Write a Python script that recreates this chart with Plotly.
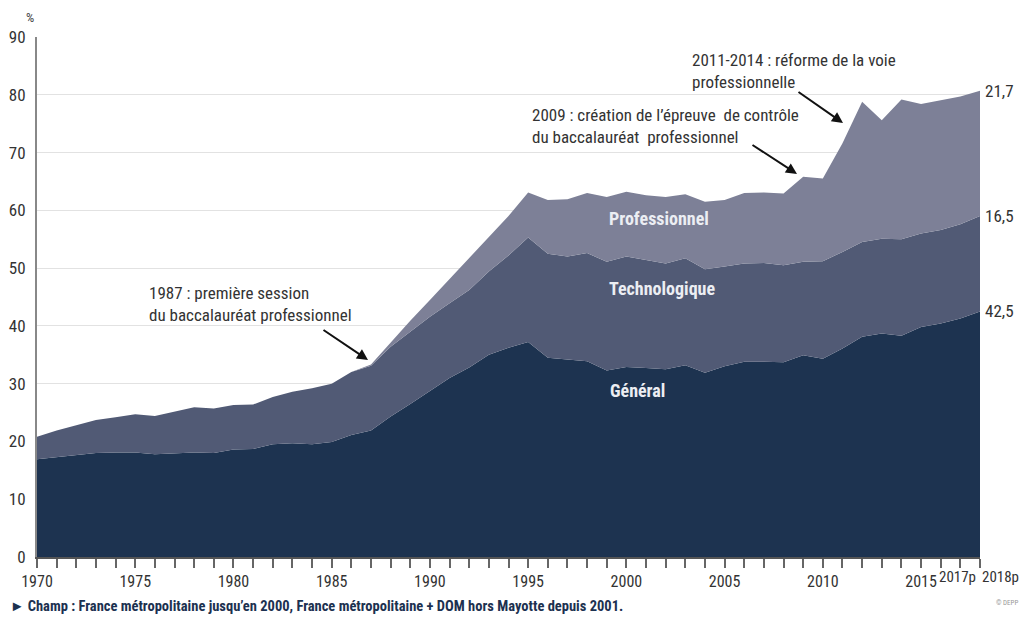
import plotly.graph_objects as go

years = list(range(1970, 2019))

general = [16.9, 17.3, 17.6, 18.0, 18.1, 18.1, 17.8, 17.9, 18.1, 18.0,
           18.6, 18.7, 19.5, 19.7, 19.5, 19.9, 21.1, 21.9, 24.3, 26.5,
           28.8, 31.0, 32.8, 35.0, 36.2, 37.2, 34.5, 34.2, 33.9, 32.3,
           32.9, 32.7, 32.5, 33.2, 31.9, 33.0, 33.8, 33.8, 33.7, 34.9,
           34.3, 36.1, 38.1, 38.7, 38.3, 39.8, 40.4, 41.3, 42.5]

technologique = [3.9, 4.6, 5.2, 5.7, 6.1, 6.6, 6.6, 7.2, 7.8, 7.7,
                 7.7, 7.7, 8.2, 8.9, 9.7, 10.1, 10.9, 11.2, 12.1, 12.5,
                 12.8, 12.9, 13.4, 14.4, 16.0, 18.1, 18.0, 17.8, 18.7, 18.8,
                 19.1, 18.7, 18.3, 18.5, 17.9, 17.3, 17.0, 17.1, 16.8, 16.2,
                 16.9, 16.7, 16.4, 16.4, 16.7, 16.2, 16.2, 16.3, 16.5]

professionnel = [0, 0, 0, 0, 0, 0, 0, 0, 0, 0,
                 0, 0, 0, 0, 0, 0, 0, 0.2, 0.8, 1.9,
                 2.9, 4.2, 5.6, 6.0, 6.8, 7.8, 9.3, 9.9, 10.4, 11.2,
                 11.2, 11.2, 11.5, 11.1, 11.7, 11.5, 12.2, 12.2, 12.4, 14.7,
                 14.3, 18.8, 24.3, 20.5, 24.2, 22.4, 22.5, 22.1, 21.7]

series_names = ["Général", "Technologique", "Professionnel"]
end_labels = ["42,5", "16,5", "21,7"]

tick_years = years
tick_text_map = {1970: "1970", 1975: "1975", 1980: "1980", 1985: "1985",
                 1990: "1990", 1995: "1995", 2000: "2000", 2005: "2005",
                 2010: "2010", 2015: "2015"}
extra_tick_labels = [(2017, "2017p", "right"), (2018, "2018p", "left")]
y_ticks = [0, 10, 20, 30, 40, 50, 60, 70, 80, 90]

# page has an 8px body margin: size the figure so the plot lands where the original's is
OFF = 8
W, H = 1029 - OFF, 620 - OFF
L, R, T, B = 37 - OFF, 49, 37 - OFF, 63
PW, PH = W - L - R, H - T - B

def px(x):
    return (x - OFF - L) / PW

def py(y):
    return (T + PH - (y - OFF)) / PH

FONT = "Liberation Sans Narrow, Arial Narrow, Roboto Condensed, Liberation Sans, sans-serif"
colors = ["#1d3350", "#515a75", "#7d8097"]
TXT = "#333333"

fig = go.Figure()
for name, vals, col in zip(series_names, [general, technologique, professionnel], colors):
    fig.add_trace(go.Scatter(
        x=years, y=vals, name=name, mode="lines",
        stackgroup="one", line=dict(width=0, color=col),
        fillcolor=col, hoverinfo="x+y+name"))

# end-of-series labels at the top of each layer
cum = 0
for vals, lab in zip([general, technologique, professionnel], end_labels):
    cum += vals[-1]
    fig.add_annotation(x=years[-1], y=cum, xref="x", yref="y", text=lab,
                       showarrow=False, xanchor="left", yanchor="middle",
                       xshift=3, font=dict(family=FONT, size=17, color=TXT))

# 2017p / 2018p labels offset like the original
for yr, lab, anc in extra_tick_labels:
    xx = yr + 1 if anc == "right" else yr
    fig.add_annotation(x=xx, y=py(577), xref="x", yref="paper", text=lab,
                       showarrow=False, xanchor=anc, yanchor="middle",
                       xshift=-2 if anc == "right" else 0,
                       font=dict(family=FONT, size=15, color=TXT))

# in-area labels
for txt, x, y in [("Professionnel", 659, 218), ("Technologique", 662, 288), ("Général", 637, 390)]:
    fig.add_annotation(x=px(x), y=py(y), xref="paper", yref="paper",
                       text="<b>" + txt + "</b>", showarrow=False,
                       xanchor="center", yanchor="middle",
                       font=dict(family=FONT, size=18, color="#eceef3"))

# comment texts
notes = [
    ("1987 : première session<br>du baccalauréat professionnel", 147, 304),
    ("2009 : création de l’épreuve  de contrôle<br>du baccalauréat  professionnel", 530, 126),
    ("2011-2014 : réforme de la voie<br>professionnelle", 690, 71),
]
for txt, x, y in notes:
    fig.add_annotation(x=px(x), y=py(y), xref="paper", yref="paper", text=txt,
                       showarrow=False, xanchor="left", yanchor="middle", align="left",
                       font=dict(family=FONT, size=17, color=TXT))

# arrows (head, tail) in pixels
arrows = [((368, 360), (322, 329)),
          ((797, 174), (751, 144)),
          ((843, 123), (797, 91))]
for (hx, hy), (tx, ty) in arrows:
    fig.add_annotation(x=px(hx), y=py(hy), xref="paper", yref="paper",
                       ax=tx - hx, ay=ty - hy, axref="pixel", ayref="pixel",
                       text="", showarrow=True, arrowhead=2, arrowsize=1.1,
                       arrowwidth=2, arrowcolor="#111111")

# % unit
fig.add_annotation(x=px(30), y=py(18), xref="paper", yref="paper", text="%",
                   showarrow=False, xanchor="center", yanchor="middle",
                   font=dict(family=FONT, size=13, color="#444444"))

# footnote
fig.add_annotation(x=px(8), y=py(606), xref="paper", yref="paper",
                   text="<b>► Champ : France métropolitaine jusqu’en 2000, France métropolitaine + DOM hors Mayotte depuis 2001.</b>",
                   showarrow=False, xanchor="left", yanchor="middle",
                   font=dict(family=FONT, size=14.5, color="#1c3150"))
fig.add_annotation(x=px(1020), y=py(603), xref="paper", yref="paper",
                   text="© DEPP", showarrow=False, xanchor="right", yanchor="middle",
                   font=dict(family=FONT, size=7, color="#999999"))

fig.update_layout(
    width=W, height=H,
    margin=dict(l=L, r=R, t=T, b=B, autoexpand=False),
    plot_bgcolor="white", paper_bgcolor="white",
    showlegend=False,
    font=dict(family=FONT, size=15, color=TXT),
    xaxis=dict(range=[1970, 2018], tickmode="array", tickvals=tick_years,
               ticktext=[tick_text_map.get(y, "") for y in tick_years],
               tickangle=0, automargin=False,
               ticks="outside", ticklen=9, tickwidth=2, tickcolor="#666666",
               showgrid=False, showline=True, linecolor="#555555", linewidth=2,
               zeroline=False, tickfont=dict(family=FONT, size=16, color=TXT)),
    yaxis=dict(range=[0, 90], tickmode="array", tickvals=y_ticks,
               automargin=False,
               showgrid=True, gridcolor="#e2e2e2", gridwidth=1,
               showline=True, linecolor="#888888", linewidth=2,
               zeroline=False, ticks="", ticklabelstandoff=6,
               tickfont=dict(family=FONT, size=17, color=TXT)),
)

fig.write_html("out.html")
